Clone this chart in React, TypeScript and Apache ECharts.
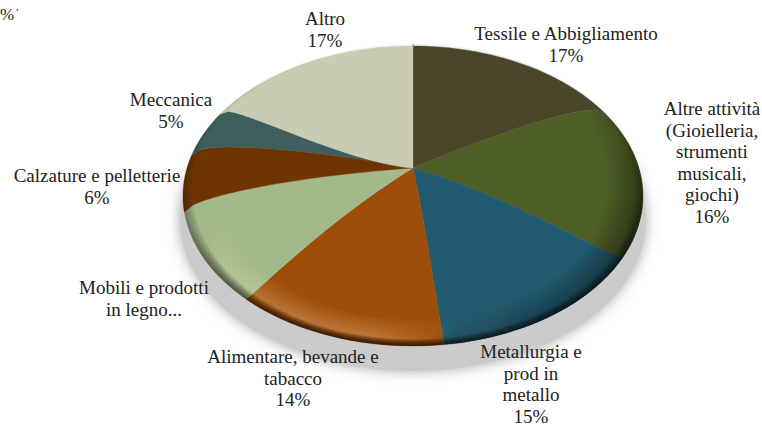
import React, { useEffect, useRef } from "react";
import * as echarts from "echarts";

const categories = [
  "Tessile e Abbigliamento",
  "Altre attività\n(Gioielleria,\nstrumenti\nmusicali,\ngiochi)",
  "Metallurgia e\nprod in\nmetallo",
  "Alimentare, bevande e\ntabacco",
  "Mobili e prodotti\nin legno...",
  "Calzature e pelletterie",
  "Meccanica",
  "Altro",
];
const shareValues = [17, 16, 15, 14, 10, 6, 5, 17];
const percentShown = [true, true, true, true, false, true, true, true];
const sliceColors = ["#4b452c", "#4e5f26", "#225b6f", "#9e4d09", "#a3b98a", "#6e3500", "#3f5f5e", "#c9cbb2"];

// layout (pixels), kept apart from the data
const labelCenters: [number, number][] = [
  [566, 23], [712, 98], [531, 341], [293, 346], [144, 277], [97, 165], [171, 89], [325, 8],
];
const LH = 21.5;
const RX = 230, RY = 150, CX = 413, CY = 196, DOME = 28;
const clamp = (v: number) => Math.max(0, Math.min(1, v));

// angle warp: small perspective shift of the rim
const warpAngle = (deg: number) => ((deg - 4.8 * Math.sin((deg * Math.PI) / 180)) * Math.PI) / 180;

function project(r: number, deg: number): number[] {
  const a = warpAngle(deg);
  const sx = Math.sin(a), ny = -Math.cos(a);
  const slope = 1.35 + 0.65 * sx;
  const p = Math.min(1.4, 0.5 + slope * Math.max(0, ny));
  const k = 1 + 0.5 * clamp((-ny - 0.3) / 0.25) * clamp(-sx * 2);
  const f = Math.pow(r, k);
  const g = Math.pow(Math.max(0, 1 - r * r), p);
  return [CX + RX * r * sx, CY + RY * ny * f - DOME * g];
}

function band(r0: number, r1: number, d0 = 0, d1 = 360): number[][] {
  const pts: number[][] = [];
  for (let d = d0; d <= d1; d += 3) pts.push(project(r1, d));
  for (let d = d1; d >= d0; d -= 3) pts.push(project(r0, d));
  return pts;
}

function wedge(from: number, to: number): number[][] {
  const pts: number[][] = [project(0, from)];
  for (let i = 1; i <= 24; i++) pts.push(project(i / 24, from));
  const n = Math.max(4, Math.ceil((to - from) / 2));
  for (let i = 1; i <= n; i++) pts.push(project(1, from + ((to - from) * i) / n));
  for (let i = 23; i >= 1; i--) pts.push(project(i / 24, to));
  return pts;
}

const total = shareValues.reduce((a, b) => a + b, 0);

function renderSlice(params: any, api: any) {
  const i = params.dataIndex;
  const before = shareValues.slice(0, i).reduce((a, b) => a + b, 0);
  const from = (before / total) * 360;
  const to = from + (api.value(0) / total) * 360;
  return {
    type: "polygon",
    shape: { points: wedge(from, to) },
    style: { fill: sliceColors[i], stroke: sliceColors[i], lineWidth: 0.4 },
  };
}

function lg(x0: number, y0: number, x1: number, y1: number, stops: [number, string][]) {
  return new echarts.graphic.LinearGradient(
    x0, y0, x1, y1, stops.map(([offset, color]) => ({ offset, color })), true
  );
}

function renderShading() {
  const children: any[] = [];
  // warm light band, lower-left of the rim only
  const lightFill = lg(450, 340, 190, 222, [
    [0, "rgba(255,205,150,0)"],
    [0.25, "rgba(255,205,150,0.026)"],
    [0.7, "rgba(255,240,190,0.018)"],
    [1, "rgba(255,240,190,0)"],
  ]);
  for (let i = 0; i < 14; i++) {
    children.push({
      type: "polygon",
      shape: { points: band(0.85 + i * 0.0075, 0.985 - i * 0.002, 150, 285) },
      style: { fill: lightFill },
    });
  }
  // dark falloff on the right side
  const darkFill = lg(480, 130, 642, 235, [
    [0.35, "rgba(0,0,0,0)"],
    [1, "rgba(0,0,0,0.04)"],
  ]);
  for (let i = 0; i < 16; i++) {
    children.push({ type: "polygon", shape: { points: band(0.84 + i * 0.01, 1) }, style: { fill: darkFill } });
  }
  // thin dark rim
  const rimFill = lg(0, 46, 0, 346, [
    [0, "rgba(0,0,0,0.006)"],
    [0.5, "rgba(0,0,0,0.03)"],
    [1, "rgba(0,0,0,0.1)"],
  ]);
  for (let i = 0; i < 10; i++) {
    children.push({ type: "polygon", shape: { points: band(0.96 + i * 0.004, 1) }, style: { fill: rimFill } });
  }
  return { type: "group", children };
}

function renderShadow() {
  return {
    type: "ellipse",
    shape: { cx: CX, cy: CY + 24, rx: RX + 3, ry: RY + 1 },
    style: {
      fill: "#cbcbcb",
      shadowBlur: 14,
      shadowColor: "rgba(130,130,130,0.7)",
    },
  };
}

export default function App() {
  const ref = useRef<HTMLDivElement>(null);
  useEffect(() => {
    const chart = echarts.init(ref.current!, undefined, { renderer: "svg" });
    const font = '19px "Liberation Serif"';
    const texts = categories.map((c, i) => ({
      type: "text",
      x: labelCenters[i][0],
      y: labelCenters[i][1],
      z: 20,
      style: {
        text: percentShown[i] ? `${c}\n${shareValues[i]}%` : c,
        font,
        fill: "#222222",
        align: "center",
        verticalAlign: "top",
        lineHeight: LH,
      },
    }));
    chart.setOption({
      animation: false,
      backgroundColor: "#ffffff",
      graphic: [
        ...texts,
        { type: "text", x: 0, y: 6, z: 20, style: { text: "%", font: '17px "Liberation Serif"', fill: "#222222" } },
        { type: "text", x: 16, y: 0, z: 20, style: { text: ",", font: '11px "Liberation Serif"', fill: "#222222" } },
      ],
      series: [
        { type: "custom", coordinateSystem: "none", silent: true, z: 1, data: [1], renderItem: renderShadow },
        { type: "custom", coordinateSystem: "none", silent: true, z: 2, data: shareValues, renderItem: renderSlice },
        { type: "custom", coordinateSystem: "none", silent: true, z: 3, data: [1], renderItem: renderShading },
      ],
    });
    return () => chart.dispose();
  }, []);
  return <div ref={ref} style={{ position: "fixed", left: 0, top: 0, width: 762, height: 427 }} />;
}
